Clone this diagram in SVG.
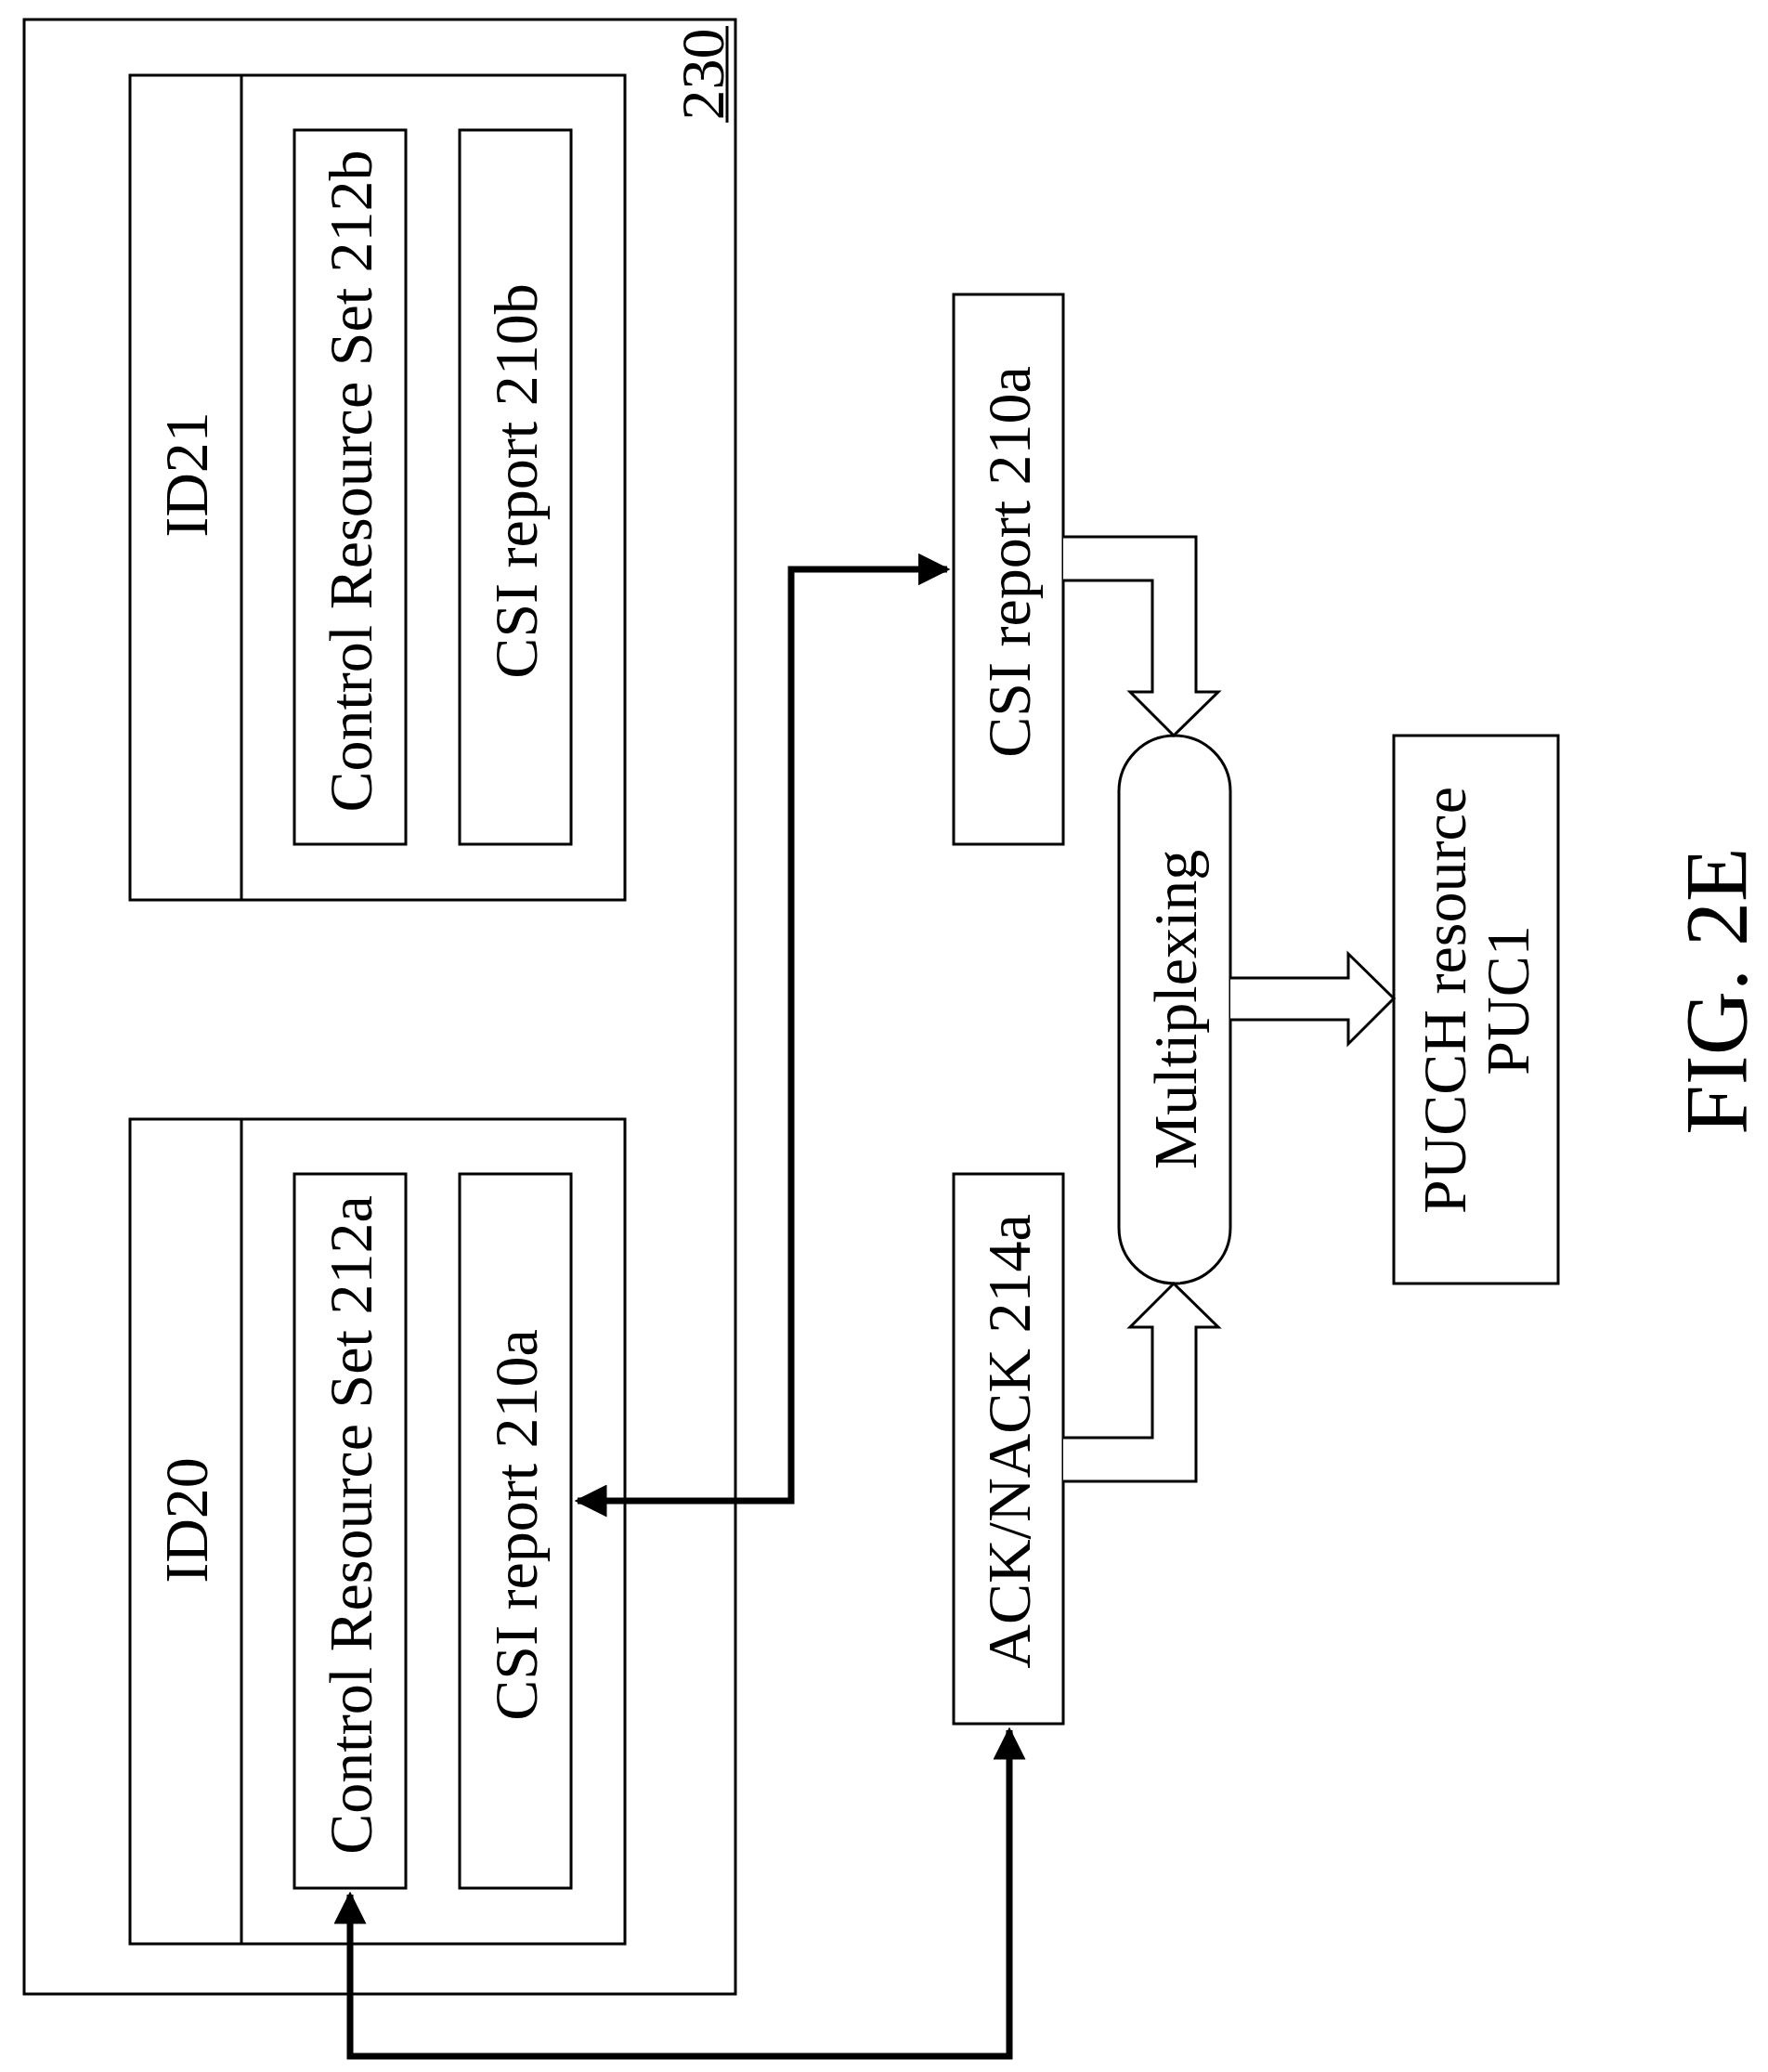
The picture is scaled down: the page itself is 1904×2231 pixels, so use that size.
<svg xmlns="http://www.w3.org/2000/svg" width="1904" height="2231" viewBox="0 0 1904 2231">
<style>
.b{fill:none;stroke:#000;stroke-width:3}
.t{font-family:"Liberation Serif",serif;font-size:66px;text-anchor:middle;dominant-baseline:central}
.c{fill:none;stroke:#000;stroke-width:7}
.h{fill:#fff;stroke:#000;stroke-width:3}
</style>
<defs>
<marker id="a" viewBox="0 0 10 10" refX="9" refY="5" markerWidth="5" markerHeight="5" orient="auto-start-reverse"><path d="M0,0L10,5L0,10z" fill="#000"/></marker>
</defs>
<rect width="1904" height="2231" fill="#fff"/>
<g id="outer230"><rect class="b" x="26" y="21" width="766" height="2126"/>
<text class="t" transform="translate(756,80) rotate(-90)">230</text><line x1="783" y1="28" x2="783" y2="132" stroke="#000" stroke-width="3"/></g>
<g id="id21"><rect class="b" x="140" y="81" width="533" height="888"/><line class="b" x1="260" y1="81" x2="260" y2="969"/>
<text class="t" transform="translate(200,511) rotate(-90)">ID21</text></g>
<g id="crs212b"><rect class="b" x="317" y="140" width="120" height="769"/><text class="t" transform="translate(377,518) rotate(-90)">Control Resource Set 212b</text></g>
<g id="csi210b"><rect class="b" x="495" y="140" width="120" height="769"/><text class="t" transform="translate(555,518) rotate(-90)">CSI report 210b</text></g>
<g id="id20"><rect class="b" x="140" y="1205" width="533" height="888"/><line class="b" x1="260" y1="1205" x2="260" y2="2093"/>
<text class="t" transform="translate(200,1637) rotate(-90)">ID20</text></g>
<g id="crs212a"><rect class="b" x="317" y="1264" width="120" height="769"/><text class="t" transform="translate(377,1642) rotate(-90)">Control Resource Set 212a</text></g>
<g id="csi210a_in"><rect class="b" x="495" y="1264" width="120" height="769"/><text class="t" transform="translate(555,1642) rotate(-90)">CSI report 210a</text></g>
<g id="csi210a"><rect class="b" x="1027" y="317" width="118" height="592"/><text class="t" transform="translate(1086,605) rotate(-90)">CSI report 210a</text></g>
<g id="ack"><rect class="b" x="1027" y="1264" width="118" height="592"/><text class="t" transform="translate(1086,1552) rotate(-90)">ACK/NACK 214a</text></g>
<g id="mux"><rect class="b" x="1205" y="792" width="120" height="590" rx="60" ry="60"/><text class="t" transform="translate(1265,1087) rotate(-90)">Multiplexing</text></g>
<g id="pucch"><rect class="b" x="1501" y="792" width="177" height="590"/><text class="t" transform="translate(1589,1077) rotate(-90)"><tspan x="0" dy="-34">PUCCH resource</tspan><tspan x="0" dy="68">PUC1</tspan></text></g>
<text class="t" style="font-size:96px" transform="translate(1848,1067) rotate(-90)">FIG. 2E</text>
<g id="connectors">
<polyline class="c" points="622,1616 852,1616 852,613 1020,613" marker-start="url(#a)" marker-end="url(#a)"/>
<polyline class="c" points="377,2040 377,2214 1087,2214 1087,1863" marker-start="url(#a)" marker-end="url(#a)"/>
<path class="h" d="M1145,578H1288V745H1312L1264,792L1217,745H1241V625H1145"/>
<path class="h" d="M1145,1548H1241V1429H1217L1264,1382L1312,1429H1288V1595H1145"/>
<path class="h" d="M1325,1053H1452V1027L1501,1075L1452,1124V1098H1325"/>
</g>
</svg>
